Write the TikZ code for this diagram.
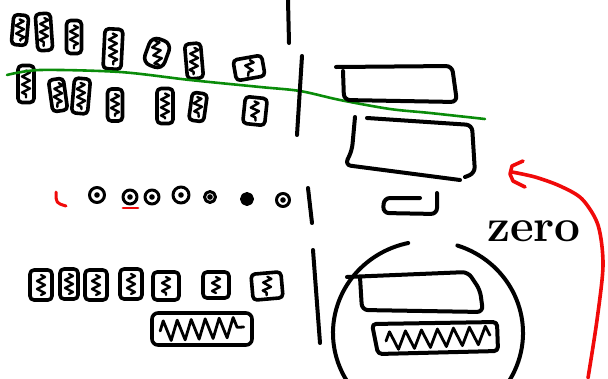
\documentclass[tikz,border=0pt]{standalone}
\usetikzlibrary{decorations.pathmorphing,calc}
\definecolor{penred}{RGB}{240,10,10}
\definecolor{pengreen}{RGB}{10,140,10}
\begin{document}
\begin{tikzpicture}[x=1pt,y=-1pt,line cap=round,line join=round,
  ink/.style={line width=4pt,black},
  glyph/.style={draw,line width=3.6pt,rounded corners=4pt,inner sep=0pt,
    path picture={\draw[line width=2.4pt,sharp corners,decorate,
      decoration={zigzag,segment length=8pt,amplitude=4pt}]
      ([yshift=-5pt]path picture bounding box.north) -- ([yshift=5pt]path picture bounding box.south);}},
  bead/.style={draw,circle,line width=3pt,inner sep=0pt,minimum size=13pt,
    path picture={\fill (path picture bounding box.center) circle (2.8pt);}},
  fullbead/.style={draw,circle,line width=3pt,fill=black,inner sep=0pt,minimum size=11pt},
  hatch/.style={line width=2.8pt,decorate,decoration={zigzag,segment length=14pt,amplitude=10pt}},
  redpen/.style={penred,line width=3.6pt},
  greenpen/.style={pengreen,line width=2.6pt}]
\useasboundingbox (0,0) rectangle (608,378);

% top row of glyphs
\node[glyph,minimum width=15pt,minimum height=30pt,rotate=-5] (t1) at (20,30) {};
\node[glyph,minimum width=15pt,minimum height=37pt,rotate=4] (t2) at (44,32) {};
\node[glyph,minimum width=15pt,minimum height=33pt] (t3) at (74,37) {};
\node[glyph,minimum width=18pt,minimum height=40pt,rotate=-3] (t4) at (113,49) {};
\node[glyph,minimum width=21pt,minimum height=28pt,rounded corners=8pt,rotate=-20] (t5) at (157,53) {};
\node[glyph,minimum width=16pt,minimum height=35pt,rotate=5] (t6) at (194,61) {};
\node[glyph,minimum width=29pt,minimum height=21pt,rotate=10] (t7) at (249,68) {};

% second row of glyphs
\node[glyph,minimum width=16pt,minimum height=37pt] (s1) at (26,84) {};
\node[glyph,minimum width=15pt,minimum height=32pt,rotate=8] (s2) at (58,95) {};
\node[glyph,minimum width=16pt,minimum height=35pt,rotate=-5] (s3) at (81,96) {};
\node[glyph,minimum width=15pt,minimum height=32pt] (s4) at (115,105) {};
\node[glyph,minimum width=16pt,minimum height=35pt] (s5) at (165,106) {};
\node[glyph,minimum width=15pt,minimum height=28pt,rotate=-8] (s6) at (198,107) {};
\node[glyph,minimum width=22pt,minimum height=27pt,rotate=-6] (s7) at (255,111) {};

% green divider
\draw[greenpen] plot[smooth] coordinates {(7,75) (40,70) (120,72) (190,80) (260,87) (300,91) (340,100) (390,109) (430,113) (485,119)};

% vertical strokes
\coordinate (v1a) at (288,0);   \coordinate (v1b) at (289,43);
\coordinate (v2a) at (302,56);  \coordinate (v2b) at (297,135);
\coordinate (v3a) at (308,188); \coordinate (v3b) at (312,223);
\coordinate (v4a) at (313,250); \coordinate (v4b) at (320,343);
\draw[ink] (v1a) -- (v1b);
\draw[ink] (v2a) -- (v2b);
\draw[ink] (v3a) -- (v3b);
\draw[ink] (v4a) -- (v4b);

% boxes on the right
\draw[ink,rounded corners=6pt] (343,71) -- (344,100) -- (457,102) -- (452,66) -- (336,67);
\draw[ink,rounded corners=6pt] (355,117) -- (352,150) -- (345,165) -- (460,180);
\draw[ink,rounded corners=6pt] (367,118) -- (472,125) -- (475,173) -- (465,177);
\draw[ink,rounded corners=6pt] (420,198) -- (384,198) -- (383,213) -- (437,214) -- (437,193);

% beads
\draw[redpen,line width=3pt] (56,192) .. controls (56,203) .. (66,206);
\node[bead,minimum size=15pt] (d1) at (97,195) {};
\node[bead,minimum size=14pt] (d2) at (130,197) {};
\node[bead,minimum size=14pt] (d3) at (152,197) {};
\node[bead,minimum size=16pt] (d4) at (181,195) {};
\node[bead,minimum size=11pt] (d5) at (210,197) {};
\node[fullbead] (d6) at (247,199) {};
\node[bead,minimum size=13pt] (d7) at (283,200) {};
\draw[redpen,line width=2.8pt] (123,208) -- (138,208);

% bottom row of glyphs
\node[glyph,minimum width=22pt,minimum height=30pt] (b1) at (41,285) {};
\node[glyph,minimum width=18pt,minimum height=30pt] (b2) at (69,284) {};
\node[glyph,minimum width=22pt,minimum height=30pt] (b3) at (96,285) {};
\node[glyph,minimum width=22pt,minimum height=30pt] (b4) at (131,284) {};
\node[glyph,minimum width=26pt,minimum height=28pt] (b5) at (166,286) {};
\node[glyph,minimum width=26pt,minimum height=26pt] (b6) at (216,285) {};
\node[glyph,minimum width=30pt,minimum height=26pt,rotate=5] (b7) at (267,286) {};

% wide scribbled box
\node[draw,line width=3.6pt,rounded corners=6pt,minimum width=100pt,minimum height=32pt,inner sep=0pt] (w1) at (202,329) {};
\draw[hatch] ([xshift=10pt,yshift=-2pt]w1.west) -- ([xshift=-10pt,yshift=2pt]w1.east);

% circle with boxes
\coordinate (cc) at (428,333);
\draw[ink] ($(cc)+(288:95 and 92)$) arc[start angle=288,end angle=618,x radius=95,y radius=92];
\draw[ink,rounded corners=6pt] (360,277) -- (362,310) -- (483,312) -- (480,290) -- (468,272) -- (347,277);
\draw[ink,rounded corners=4pt] (372,324) -- (497,322) -- (498,351) -- (378,354) -- cycle;
\draw[hatch,decoration={segment length=16pt,amplitude=9pt}] (386,341) -- (490,335);

\node[font=\fontsize{46}{46}\selectfont\bfseries] (zero) at (534,231) {zero};

% red arrow
\draw[redpen] plot[smooth] coordinates {(588,378) (597,320) (603,265) (598,225) (582,199) (560,186) (535,177) (512,172)};
\draw[redpen] (523,161) -- (512,166) -- (510,174) -- (513,181) -- (525,187);
\end{tikzpicture}
\end{document}
